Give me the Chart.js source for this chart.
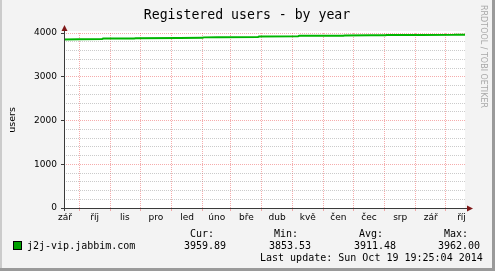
<!DOCTYPE html>
<html>
<head>
<meta charset="utf-8">
<script src="https://cdn.jsdelivr.net/npm/chart.js@4/dist/chart.umd.min.js"></script>
<style>
  html, body { margin: 0; padding: 0; background: #f3f3f3; }
  canvas { display: block; }
</style>
</head>
<body>
<canvas id="chart" width="495" height="271"></canvas>
<script>
// days since 1 Oct 2013 -> registered users
const days  = [-15, 0, 23, 24, 55, 56, 100, 123, 124, 138, 178, 179, 218, 219, 263, 264, 290, 305, 306, 340, 373, 374, 380, 384];
const users = [3854, 3857, 3862, 3872, 3876, 3880, 3884, 3890, 3900, 3904, 3908, 3920, 3928, 3935, 3938, 3944, 3946, 3950, 3955, 3956, 3958, 3962, 3959, 3959.89];

const monthStarts = [0, 31, 61, 92, 123, 151, 182, 212, 243, 273, 304, 335, 365];
const monthMids   = [-14, 15.5, 45.5, 76.5, 107.5, 137, 166.5, 197, 227.5, 258, 288.5, 319.5, 350, 380.5];
const monthLabels = ['zář', 'říj', 'lis', 'pro', 'led', 'úno', 'bře', 'dub', 'kvě', 'čen', 'čec', 'srp', 'zář', 'říj'];

const seriesName = 'j2j-vip.jabbim.com';
const statNames  = ['Cur:', 'Min:', 'Avg:', 'Max:'];
const statValues = ['3959.89', '3853.53', '3911.48', '3962.00'];
const lastUpdate = 'Last update: Sun Oct 19 19:25:04 2014';

const MAJOR = 'rgba(235,90,90,0.5)';
const MINOR = 'rgba(140,140,140,0.45)';
const NONE = 'rgba(0,0,0,0)';

const tickValues = monthStarts.concat(monthMids).sort((a, b) => a - b);
const labelAt = new Map(monthMids.map((d, i) => [d, monthLabels[i]]));

// rrdtool-like frame, axes, arrows and texts
const decor = {
  id: 'decor',
  beforeDraw(chart) {
    const c = chart.ctx, a = chart.chartArea;
    c.save();
    c.fillStyle = '#f3f3f3';
    c.fillRect(0, 0, 495, 271);
    c.fillStyle = '#cbcbcb';
    c.fillRect(0, 0, 2, 271);
    c.fillStyle = '#9a9a9a';
    c.fillRect(492, 0, 3, 271);
    c.fillRect(0, 268, 495, 3);
    c.fillStyle = '#fff';
    c.fillRect(a.left, a.top - 2, a.right - a.left, a.bottom - a.top + 2);
    c.restore();
  },
  afterDraw(chart) {
    const c = chart.ctx, a = chart.chartArea;
    c.save();
    // axes
    c.strokeStyle = '#3a3a3a';
    c.lineWidth = 1;
    c.beginPath();
    c.moveTo(a.left + 0.5, a.bottom + 3);
    c.lineTo(a.left + 0.5, a.top - 4);
    c.moveTo(a.left - 3, a.bottom + 0.5);
    c.lineTo(a.right + 4, a.bottom + 0.5);
    c.stroke();
    c.fillStyle = '#7f1818';
    c.beginPath();
    c.moveTo(a.left + 0.5, a.top - 8);
    c.lineTo(a.left - 2.5, a.top - 2);
    c.lineTo(a.left + 3.5, a.top - 2);
    c.fill();
    c.beginPath();
    c.moveTo(a.right + 8, a.bottom + 0.5);
    c.lineTo(a.right + 2, a.bottom - 2.5);
    c.lineTo(a.right + 2, a.bottom + 3.5);
    c.fill();

    // title
    c.fillStyle = '#000';
    c.font = '13.2px "DejaVu Sans Mono"';
    c.textAlign = 'center';
    c.fillText('Registered users - by year', 247, 18.5);

    // y axis title
    c.save();
    c.translate(15, 120);
    c.rotate(-Math.PI / 2);
    c.font = '9.5px "DejaVu Sans"';
    c.fillText('users', 0, 0);
    c.restore();

    // watermark
    c.save();
    c.translate(481, 5);
    c.rotate(Math.PI / 2);
    c.fillStyle = '#a8a8a8';
    c.textAlign = 'left';
    c.font = '8px "DejaVu Sans"';
    const wm = 'RRDTOOL / TOBI OETIKER';
    const w = c.measureText(wm).width;
    c.scale(103 / w, 1);
    c.fillText(wm, 0, 0);
    c.restore();

    // legend
    c.textAlign = 'left';
    c.font = '10px "DejaVu Sans Mono"';
    c.fillStyle = '#00a000';
    c.fillRect(14, 242, 7, 7);
    c.strokeStyle = '#000';
    c.strokeRect(13.5, 241.5, 8, 8);
    c.fillStyle = '#000';
    c.fillText(seriesName, 27, 249);
    const nameX = [190, 274, 359, 444];
    const valX = [184, 269, 354, 438];
    statNames.forEach((n, i) => c.fillText(n, nameX[i], 237));
    statValues.forEach((v, i) => c.fillText(v, valX[i], 249));
    c.fillText(lastUpdate, 260, 261);
    c.restore();
  }
};

new Chart(document.getElementById('chart').getContext('2d'), {
  type: 'line',
  data: {
    datasets: [{
      data: days.map((d, i) => ({ x: d, y: users[i] })),
      borderColor: '#00b400',
      borderWidth: 2,
      pointRadius: 0,
      fill: false,
      tension: 0
    }]
  },
  options: {
    responsive: false,
    animation: false,
    devicePixelRatio: 1,
    layout: { padding: { top: 33, right: 30, left: 0, bottom: 0 } },
    plugins: { legend: { display: false }, tooltip: { enabled: false } },
    scales: {
      x: {
        type: 'linear',
        min: -15,
        max: 384,
        afterBuildTicks: s => { s.ticks = tickValues.map(v => ({ value: v })); },
        afterFit: s => { s.height = 63; s.paddingLeft = 0; s.paddingRight = 0; },
        grid: {
          color: c => (c.tick && monthStarts.includes(c.tick.value)) ? MAJOR : NONE,
          tickColor: c => (c.tick && monthStarts.includes(c.tick.value)) ? MAJOR : NONE,
          tickLength: 3,
          lineWidth: 1
        },
        border: { display: false, dash: [1, 1] },
        ticks: {
          autoSkip: false,
          maxRotation: 0,
          padding: 1,
          color: '#000',
          font: { family: 'DejaVu Sans', size: 9 },
          callback: v => labelAt.get(v) || ''
        }
      },
      y: {
        min: 0,
        max: 4000,
        afterFit: s => { s.width = 64; s.paddingTop = 0; s.paddingBottom = 0; },
        grid: {
          color: c => (c.tick && c.tick.value % 1000 === 0) ? MAJOR : MINOR,
          tickColor: c => (c.tick && c.tick.value % 1000 === 0) ? '#3a3a3a' : NONE,
          tickLength: 3,
          lineWidth: 1
        },
        border: { display: false, dash: [1, 1] },
        ticks: {
          stepSize: 200,
          maxTicksLimit: 30,
          autoSkip: false,
          padding: 4,
          color: '#000',
          font: { family: 'DejaVu Sans', size: 9 },
          callback: v => v % 1000 === 0 ? v : ''
        }
      }
    }
  },
  plugins: [decor]
});
</script>
</body>
</html>
